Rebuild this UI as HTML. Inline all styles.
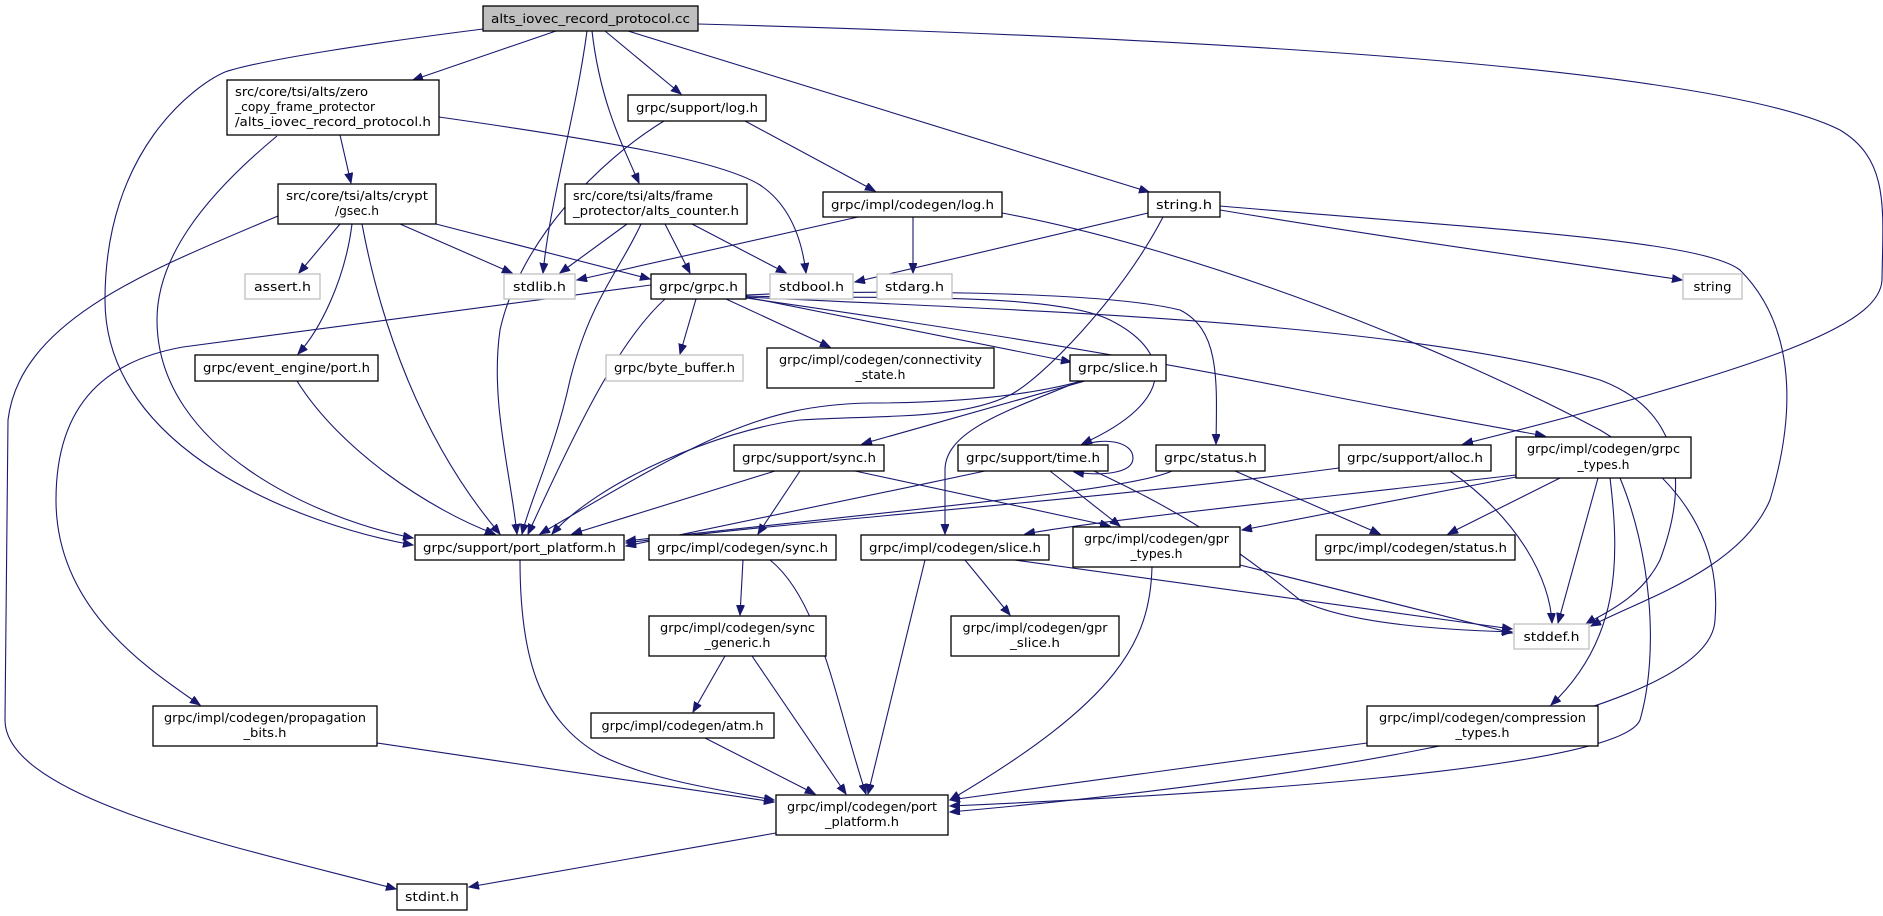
<!DOCTYPE html>
<html><head><meta charset="utf-8"><style>
html,body{margin:0;padding:0;background:#fff;}
svg{display:block;}
text{font-family:"DejaVu Sans Condensed","DejaVu Sans","Liberation Sans",sans-serif;font-size:12px;fill:#000;}
.e{fill:none;stroke:#191970;stroke-width:1.1;marker-end:url(#a);}
.n{fill:#fff;stroke:#000;stroke-width:1.3;}
.g{fill:#fff;stroke:#bfbfbf;stroke-width:1.3;}
</style></head><body>
<svg width="1883" height="916" viewBox="0 0 1883 916" xmlns="http://www.w3.org/2000/svg">
<defs><marker id="a" markerUnits="userSpaceOnUse" markerWidth="11" markerHeight="9" refX="10" refY="4" orient="auto"><path d="M0,0 L10,4 L0,8 z" fill="#191970" stroke="#191970"/></marker></defs>
<g>
<path class="e" d="M483,29 C380,42 260,60 225,72 C195,85 105,150 105,300 C105,450 300,525 413,545"/>
<path class="e" d="M277,136 C200,200 157,260 157,320 C157,450 320,520 413,538"/>
<path class="e" d="M556,31 L413,80"/>
<path class="e" d="M587,31 C575,120 550,200 543,273"/>
<path class="e" d="M592,31 C600,100 620,140 639,183"/>
<path class="e" d="M605,31 L681,94"/>
<path class="e" d="M628,31 L1149,192"/>
<path class="e" d="M698,24 C1100,35 1700,60 1840,130 C1890,160 1883,210 1882,280 C1880,320 1800,360 1463,444"/>
<path class="e" d="M439,117 C600,140 720,160 760,185 C790,205 802,240 806,273"/>
<path class="e" d="M340,135 L351,183"/>
<path class="e" d="M664,121 C600,160 520,240 500,330 C490,400 510,470 517,534"/>
<path class="e" d="M745,121 L875,191"/>
<path class="e" d="M340,224 L299,273"/>
<path class="e" d="M400,224 L512,273"/>
<path class="e" d="M436,224 L650,279"/>
<path class="e" d="M352,224 C345,280 320,330 298,354"/>
<path class="e" d="M362,224 C380,320 420,440 500,534"/>
<path class="e" d="M278,216 C150,270 20,320 8,420 L5,720 C5,800 250,850 396,889"/>
<path class="e" d="M627,224 L560,273"/>
<path class="e" d="M641,224 C620,270 590,300 570,380 C555,450 530,500 522,534"/>
<path class="e" d="M665,224 L690,273"/>
<path class="e" d="M692,224 L786,273"/>
<path class="e" d="M858,217 L577,280"/>
<path class="e" d="M913,217 L913,273"/>
<path class="e" d="M1002,213 C1200,250 1450,350 1600,430 C1700,490 1720,560 1715,620 C1710,730 1200,790 950,812"/>
<path class="e" d="M1148,213 L855,282"/>
<path class="e" d="M1220,210 C1400,240 1550,260 1682,280"/>
<path class="e" d="M1220,206 C1500,230 1700,240 1740,270 C1790,320 1800,400 1770,500 C1740,570 1640,600 1591,626"/>
<path class="e" d="M1163,217 C1120,300 1040,380 1010,395 C960,420 880,415 800,420 C720,430 600,480 552,534"/>
<path class="e" d="M1082,381 C1030,395 960,403 870,403 C760,405 700,440 540,534"/>
<path class="e" d="M1085,381 L862,444"/>
<path class="e" d="M1080,381 C1010,410 945,430 945,470 L945,534"/>
<path class="e" d="M651,285 L183,347 C110,360 56,400 56,500 C56,610 150,670 200,705"/>
<path class="e" d="M665,299 C620,340 580,420 528,534"/>
<path class="e" d="M696,299 L680,354"/>
<path class="e" d="M726,299 L830,347"/>
<path class="e" d="M746,297 L1071,362"/>
<path class="e" d="M746,296 C850,300 1050,290 1110,320 C1170,350 1180,400 1082,444"/>
<path class="e" d="M746,295 C850,290 1100,290 1180,310 C1220,330 1217,380 1216,444"/>
<path class="e" d="M746,298 C900,320 1100,350 1300,390 C1400,410 1500,428 1545,436"/>
<path class="e" d="M746,297 C1000,310 1400,320 1600,380 C1680,410 1690,480 1660,560 C1640,600 1600,615 1586,624"/>
<path class="e" d="M1085,445 C1100,438 1133,440 1133,458 C1133,474 1100,476 1074,472"/>
<path class="e" d="M985,471 C850,500 700,530 626,546"/>
<path class="e" d="M1050,471 L1120,526"/>
<path class="e" d="M1094,471 C1200,520 1250,560 1300,600 C1350,625 1450,630 1512,632"/>
<path class="e" d="M775,471 L572,534"/>
<path class="e" d="M800,471 L758,534"/>
<path class="e" d="M855,471 L1110,526"/>
<path class="e" d="M1172,471 C1130,490 950,505 626,541"/>
<path class="e" d="M1235,471 L1380,534"/>
<path class="e" d="M1339,468 C1100,500 800,520 626,543"/>
<path class="e" d="M1450,471 C1520,520 1550,580 1552,623"/>
<path class="e" d="M1516,475 C1300,500 1100,520 1025,534"/>
<path class="e" d="M1516,477 L1242,530"/>
<path class="e" d="M1560,478 L1448,534"/>
<path class="e" d="M1598,478 L1558,623"/>
<path class="e" d="M1610,478 C1620,560 1620,640 1551,705"/>
<path class="e" d="M1620,478 C1650,550 1660,650 1640,720 C1620,770 1200,795 950,806"/>
<path class="e" d="M925,560 L868,794"/>
<path class="e" d="M965,560 L1010,615"/>
<path class="e" d="M1015,560 L1512,629"/>
<path class="e" d="M1240,565 L1512,633"/>
<path class="e" d="M1152,567 C1150,640 1120,700 950,800"/>
<path class="e" d="M743,560 L740,615"/>
<path class="e" d="M770,560 C820,600 835,700 866,794"/>
<path class="e" d="M725,656 L693,712"/>
<path class="e" d="M752,656 L846,794"/>
<path class="e" d="M705,738 L815,794"/>
<path class="e" d="M377,743 L774,802"/>
<path class="e" d="M1367,743 L950,800"/>
<path class="e" d="M776,833 L469,887"/>
<path class="e" d="M520,560 C520,660 540,720 600,755 C650,780 720,790 774,800"/>
<path class="e" d="M297,381 C340,450 430,510 495,534"/>
</g>
<g>
<rect x="483" y="6" width="215" height="25" fill="#bfbfbf" stroke="#000" stroke-width="1.3"/>
<text x="590.5" y="23" text-anchor="middle" textLength="199" lengthAdjust="spacingAndGlyphs">alts_iovec_record_protocol.cc</text>

<rect class="n" x="227" y="80" width="212" height="55"/>
<text x="235" y="96" textLength="133" lengthAdjust="spacingAndGlyphs">src/core/tsi/alts/zero</text>
<text x="235" y="111" textLength="140" lengthAdjust="spacingAndGlyphs">_copy_frame_protector</text>
<text x="235" y="126" textLength="196" lengthAdjust="spacingAndGlyphs">/alts_iovec_record_protocol.h</text>

<rect class="n" x="628" y="95" width="138" height="26"/>
<text x="697" y="112" text-anchor="middle" textLength="122" lengthAdjust="spacingAndGlyphs">grpc/support/log.h</text>

<rect class="n" x="278" y="184" width="158" height="40"/>
<text x="357" y="200" text-anchor="middle" textLength="142" lengthAdjust="spacingAndGlyphs">src/core/tsi/alts/crypt</text>
<text x="357" y="215" text-anchor="middle" textLength="44" lengthAdjust="spacingAndGlyphs">/gsec.h</text>

<rect class="n" x="565" y="184" width="182" height="40"/>
<text x="573" y="200" textLength="140" lengthAdjust="spacingAndGlyphs">src/core/tsi/alts/frame</text>
<text x="573" y="215" textLength="166" lengthAdjust="spacingAndGlyphs">_protector/alts_counter.h</text>

<rect class="n" x="823" y="192" width="179" height="25"/>
<text x="912.5" y="209" text-anchor="middle" textLength="163" lengthAdjust="spacingAndGlyphs">grpc/impl/codegen/log.h</text>

<rect class="n" x="1148" y="192" width="72" height="25"/>
<text x="1184" y="209" text-anchor="middle" textLength="56" lengthAdjust="spacingAndGlyphs">string.h</text>

<rect class="g" x="245" y="274" width="75" height="25"/>
<text x="282.5" y="291" text-anchor="middle" textLength="57" lengthAdjust="spacingAndGlyphs">assert.h</text>
<rect class="g" x="504" y="274" width="71" height="25"/>
<text x="539.5" y="291" text-anchor="middle" textLength="53" lengthAdjust="spacingAndGlyphs">stdlib.h</text>
<rect class="n" x="651" y="274" width="95" height="25"/>
<text x="698.5" y="291" text-anchor="middle" textLength="79" lengthAdjust="spacingAndGlyphs">grpc/grpc.h</text>
<rect class="g" x="770" y="274" width="83" height="25"/>
<text x="811.5" y="291" text-anchor="middle" textLength="65" lengthAdjust="spacingAndGlyphs">stdbool.h</text>
<rect class="g" x="877" y="274" width="75" height="25"/>
<text x="914.5" y="291" text-anchor="middle" textLength="59" lengthAdjust="spacingAndGlyphs">stdarg.h</text>
<rect class="g" x="1683" y="274" width="59" height="25"/>
<text x="1712.5" y="291" text-anchor="middle" textLength="38" lengthAdjust="spacingAndGlyphs">string</text>

<rect class="n" x="195" y="355" width="183" height="26"/>
<text x="286.5" y="372" text-anchor="middle" textLength="167" lengthAdjust="spacingAndGlyphs">grpc/event_engine/port.h</text>
<rect class="g" x="606" y="355" width="137" height="26"/>
<text x="674.5" y="372" text-anchor="middle" textLength="121" lengthAdjust="spacingAndGlyphs">grpc/byte_buffer.h</text>
<rect class="n" x="767" y="348" width="227" height="40"/>
<text x="880.5" y="364" text-anchor="middle" textLength="203" lengthAdjust="spacingAndGlyphs">grpc/impl/codegen/connectivity</text>
<text x="880.5" y="379" text-anchor="middle" textLength="50" lengthAdjust="spacingAndGlyphs">_state.h</text>
<rect class="n" x="1070" y="355" width="96" height="26"/>
<text x="1118" y="372" text-anchor="middle" textLength="80" lengthAdjust="spacingAndGlyphs">grpc/slice.h</text>

<rect class="n" x="734" y="445" width="150" height="26"/>
<text x="809" y="462" text-anchor="middle" textLength="134" lengthAdjust="spacingAndGlyphs">grpc/support/sync.h</text>
<rect class="n" x="958" y="445" width="150" height="26"/>
<text x="1033" y="462" text-anchor="middle" textLength="134" lengthAdjust="spacingAndGlyphs">grpc/support/time.h</text>
<rect class="n" x="1156" y="445" width="109" height="26"/>
<text x="1210.5" y="462" text-anchor="middle" textLength="93" lengthAdjust="spacingAndGlyphs">grpc/status.h</text>
<rect class="n" x="1339" y="445" width="152" height="26"/>
<text x="1415" y="462" text-anchor="middle" textLength="136" lengthAdjust="spacingAndGlyphs">grpc/support/alloc.h</text>
<rect class="n" x="1516" y="437" width="175" height="41"/>
<text x="1603.5" y="453" text-anchor="middle" textLength="153" lengthAdjust="spacingAndGlyphs">grpc/impl/codegen/grpc</text>
<text x="1603.5" y="469" text-anchor="middle" textLength="52" lengthAdjust="spacingAndGlyphs">_types.h</text>

<rect class="n" x="415" y="535" width="209" height="25"/>
<text x="519.5" y="552" text-anchor="middle" textLength="193" lengthAdjust="spacingAndGlyphs">grpc/support/port_platform.h</text>
<rect class="n" x="649" y="535" width="187" height="25"/>
<text x="742.5" y="552" text-anchor="middle" textLength="171" lengthAdjust="spacingAndGlyphs">grpc/impl/codegen/sync.h</text>
<rect class="n" x="861" y="535" width="188" height="25"/>
<text x="955" y="552" text-anchor="middle" textLength="172" lengthAdjust="spacingAndGlyphs">grpc/impl/codegen/slice.h</text>
<rect class="n" x="1073" y="527" width="167" height="40"/>
<text x="1156.5" y="543" text-anchor="middle" textLength="145" lengthAdjust="spacingAndGlyphs">grpc/impl/codegen/gpr</text>
<text x="1156.5" y="558" text-anchor="middle" textLength="52" lengthAdjust="spacingAndGlyphs">_types.h</text>
<rect class="n" x="1316" y="535" width="199" height="25"/>
<text x="1415.5" y="552" text-anchor="middle" textLength="183" lengthAdjust="spacingAndGlyphs">grpc/impl/codegen/status.h</text>

<rect class="n" x="951" y="616" width="168" height="40"/>
<text x="1035" y="632" text-anchor="middle" textLength="145" lengthAdjust="spacingAndGlyphs">grpc/impl/codegen/gpr</text>
<text x="1035" y="647" text-anchor="middle" textLength="50" lengthAdjust="spacingAndGlyphs">_slice.h</text>
<rect class="g" x="1514" y="624" width="75" height="25"/>
<text x="1551.5" y="641" text-anchor="middle" textLength="56" lengthAdjust="spacingAndGlyphs">stddef.h</text>
<rect class="n" x="649" y="616" width="177" height="40"/>
<text x="737.5" y="632" text-anchor="middle" textLength="155" lengthAdjust="spacingAndGlyphs">grpc/impl/codegen/sync</text>
<text x="737.5" y="647" text-anchor="middle" textLength="66" lengthAdjust="spacingAndGlyphs">_generic.h</text>

<rect class="n" x="153" y="706" width="224" height="40"/>
<text x="265" y="722" text-anchor="middle" textLength="202" lengthAdjust="spacingAndGlyphs">grpc/impl/codegen/propagation</text>
<text x="265" y="737" text-anchor="middle" textLength="43" lengthAdjust="spacingAndGlyphs">_bits.h</text>
<rect class="n" x="591" y="713" width="183" height="25"/>
<text x="682.5" y="730" text-anchor="middle" textLength="162" lengthAdjust="spacingAndGlyphs">grpc/impl/codegen/atm.h</text>
<rect class="n" x="1367" y="706" width="231" height="40"/>
<text x="1482.5" y="722" text-anchor="middle" textLength="207" lengthAdjust="spacingAndGlyphs">grpc/impl/codegen/compression</text>
<text x="1482.5" y="737" text-anchor="middle" textLength="54" lengthAdjust="spacingAndGlyphs">_types.h</text>

<rect class="n" x="776" y="795" width="172" height="40"/>
<text x="862" y="811" text-anchor="middle" textLength="150" lengthAdjust="spacingAndGlyphs">grpc/impl/codegen/port</text>
<text x="862" y="826" text-anchor="middle" textLength="74" lengthAdjust="spacingAndGlyphs">_platform.h</text>
<rect class="n" x="397" y="884" width="70" height="26"/>
<text x="432" y="901" text-anchor="middle" textLength="54" lengthAdjust="spacingAndGlyphs">stdint.h</text>
</g>
</svg>
</body></html>
